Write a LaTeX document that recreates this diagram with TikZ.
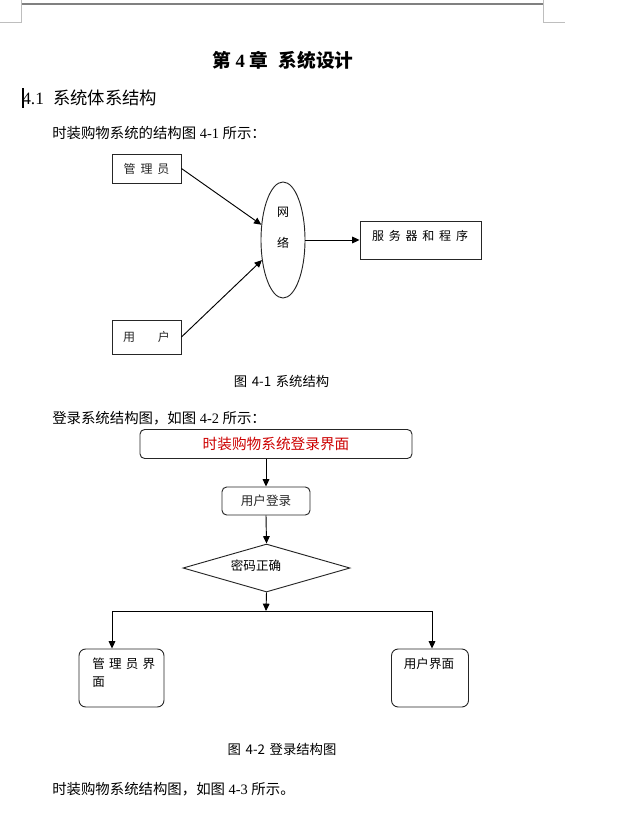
\documentclass[tikz,border=0pt]{standalone}
\usepackage{fontspec}
\usepackage{tikz}
\usetikzlibrary{arrows.meta,shapes.geometric}
\setmainfont{Liberation Serif}
\newfontfamily\cjk{Noto Sans CJK SC}
\definecolor{pagegray}{RGB}{128,128,128}
\definecolor{markgray}{RGB}{190,190,190}
\definecolor{loginred}{RGB}{204,0,0}
\newcommand{\zh}[1]{{\cjk #1}}
\newcommand{\gap}{\hspace{3.6pt}}
\tikzset{
  box/.style={draw, black!85, line width=0.7pt, inner sep=0pt},
  rbox/.style={box, rounded corners=3.5pt},
  lbl/.style={inner sep=0pt, font=\cjk\fontsize{9}{11}\selectfont},
  body/.style={inner sep=0pt, anchor=west, font=\fontsize{10.8}{13}\selectfont},
  figcap/.style={inner sep=0pt, font=\cjk\fontsize{10}{12}\selectfont},
  arr/.style={-{Triangle[length=5.5pt,width=5pt]}, black, line width=0.7pt}
}

\begin{document}
\begin{tikzpicture}[x=0.75pt, y=-0.75pt]
  \useasboundingbox (0,0) rectangle (620,823);
  % page corner marks
  \draw[pagegray, line width=0.8pt] (21,4) -- (543,4);
  \draw[markgray, line width=0.6pt] (21,0) -- (21,22) -- (0,22);
  \draw[markgray, line width=0.6pt] (543,0) -- (543,22) -- (565,22);
  % headings
  \node[inner sep=0pt, font=\bfseries\fontsize{14}{16}\selectfont] (chap) at (283,60)
    {\zh{第}\hspace{3.5pt}4\hspace{3.5pt}\zh{章}\hspace{8pt}\zh{系统设计}};
  \fill[black] (21.5,88) rectangle (23.5,108);
  \node[inner sep=0pt, anchor=west, font=\fontsize{13}{15}\selectfont] (sec) at (22,98)
    {4.1\hspace{7pt}\zh{系统体系结构}};
  \node[body] (txt1) at (52,133) {\zh{时装购物系统的结构图} 4-1 \zh{所示：}};

  % figure 4-1
  \node[box, minimum width=51.75pt, minimum height=21.75pt, lbl] (admin) at (146.5,168.5) {管\gap 理\gap 员};
  \node[box, minimum width=51.75pt, minimum height=25.5pt, lbl] (user) at (146.5,337) {用\hspace{17pt}户};
  \node[draw, ellipse, black!85, line width=0.7pt, minimum width=33pt, minimum height=87pt, inner sep=0pt] (net) at (283,240) {};
  \node[lbl, align=center, font=\cjk\fontsize{9}{23}\selectfont] (netlbl) at (283,228) {网\\络};
  \node[box, minimum width=90.75pt, minimum height=28.5pt] (server) at (420.5,240) {};
  \node[lbl] (serverlbl) at (420,236) {服\gap 务\gap 器\gap 和\gap 程\gap 序};
  \draw[arr] (admin.east) -- (net);
  \draw[arr] (user.east) -- (net);
  \draw[arr] (net.east) -- (server.west);
  \node[figcap] (cap1) at (281.5,381) {图\hspace{3.5pt}4-1\hspace{3.5pt}系统结构};

  \node[body] (txt2) at (52,418) {\zh{登录系统结构图，如图} 4-2 \zh{所示：}};

  % figure 4-2
  \node[rbox, minimum width=204pt, minimum height=21.75pt, font=\cjk\fontsize{11}{13}\selectfont, text=loginred] (login) at (276,444) {时装购物系统登录界面};
  \node[rbox, minimum width=66pt, minimum height=21pt, lbl, font=\cjk\fontsize{9.4}{11}\selectfont] (enter) at (266,501) {用户登录};
  \node[draw, diamond, black!85, line width=0.7pt, aspect=3.5, minimum width=125.25pt, minimum height=36pt, inner sep=0pt] (check) at (266.5,568) {};
  \node[lbl, font=\cjk\fontsize{9.4}{11}\selectfont] (checklbl) at (256,566) {密码正确};
  \coordinate (split) at (266,611);
  \coordinate (lft) at (112,611);
  \coordinate (rgt) at (432,611);
  \node[rbox, rounded corners=5pt, minimum width=63.75pt, minimum height=43.5pt] (adminui) at (121.5,678) {};
  \node[lbl, anchor=west, align=left, font=\cjk\fontsize{9.4}{13.5}\selectfont] (adminuilbl) at (92,673) {管\hspace{3.2pt}理\hspace{3.2pt}员\hspace{3.2pt}界\\面};
  \node[rbox, rounded corners=5pt, minimum width=57.75pt, minimum height=43.5pt] (userui) at (430,678) {};
  \node[lbl, font=\cjk\fontsize{9.4}{11}\selectfont] (useruilbl) at (429,664) {用户界面};
  \draw[arr] (login.south -| enter) -- (enter.north);
  \draw[arr] (enter.south) -- (check.north);
  \draw[arr] (check.south) -- (split);
  \draw[line width=0.7pt] (lft) -- (rgt);
  \draw[arr] (lft) -- (lft |- adminui.north);
  \draw[arr] (rgt) -- (rgt |- userui.north);
  \node[figcap] (cap2) at (282,749) {图\hspace{3.5pt}4-2\hspace{3.5pt}登录结构图};

  \node[body] (txt3) at (52,789) {\zh{时装购物系统结构图，如图} 4-3 \zh{所示。}};
\end{tikzpicture}
\end{document}
